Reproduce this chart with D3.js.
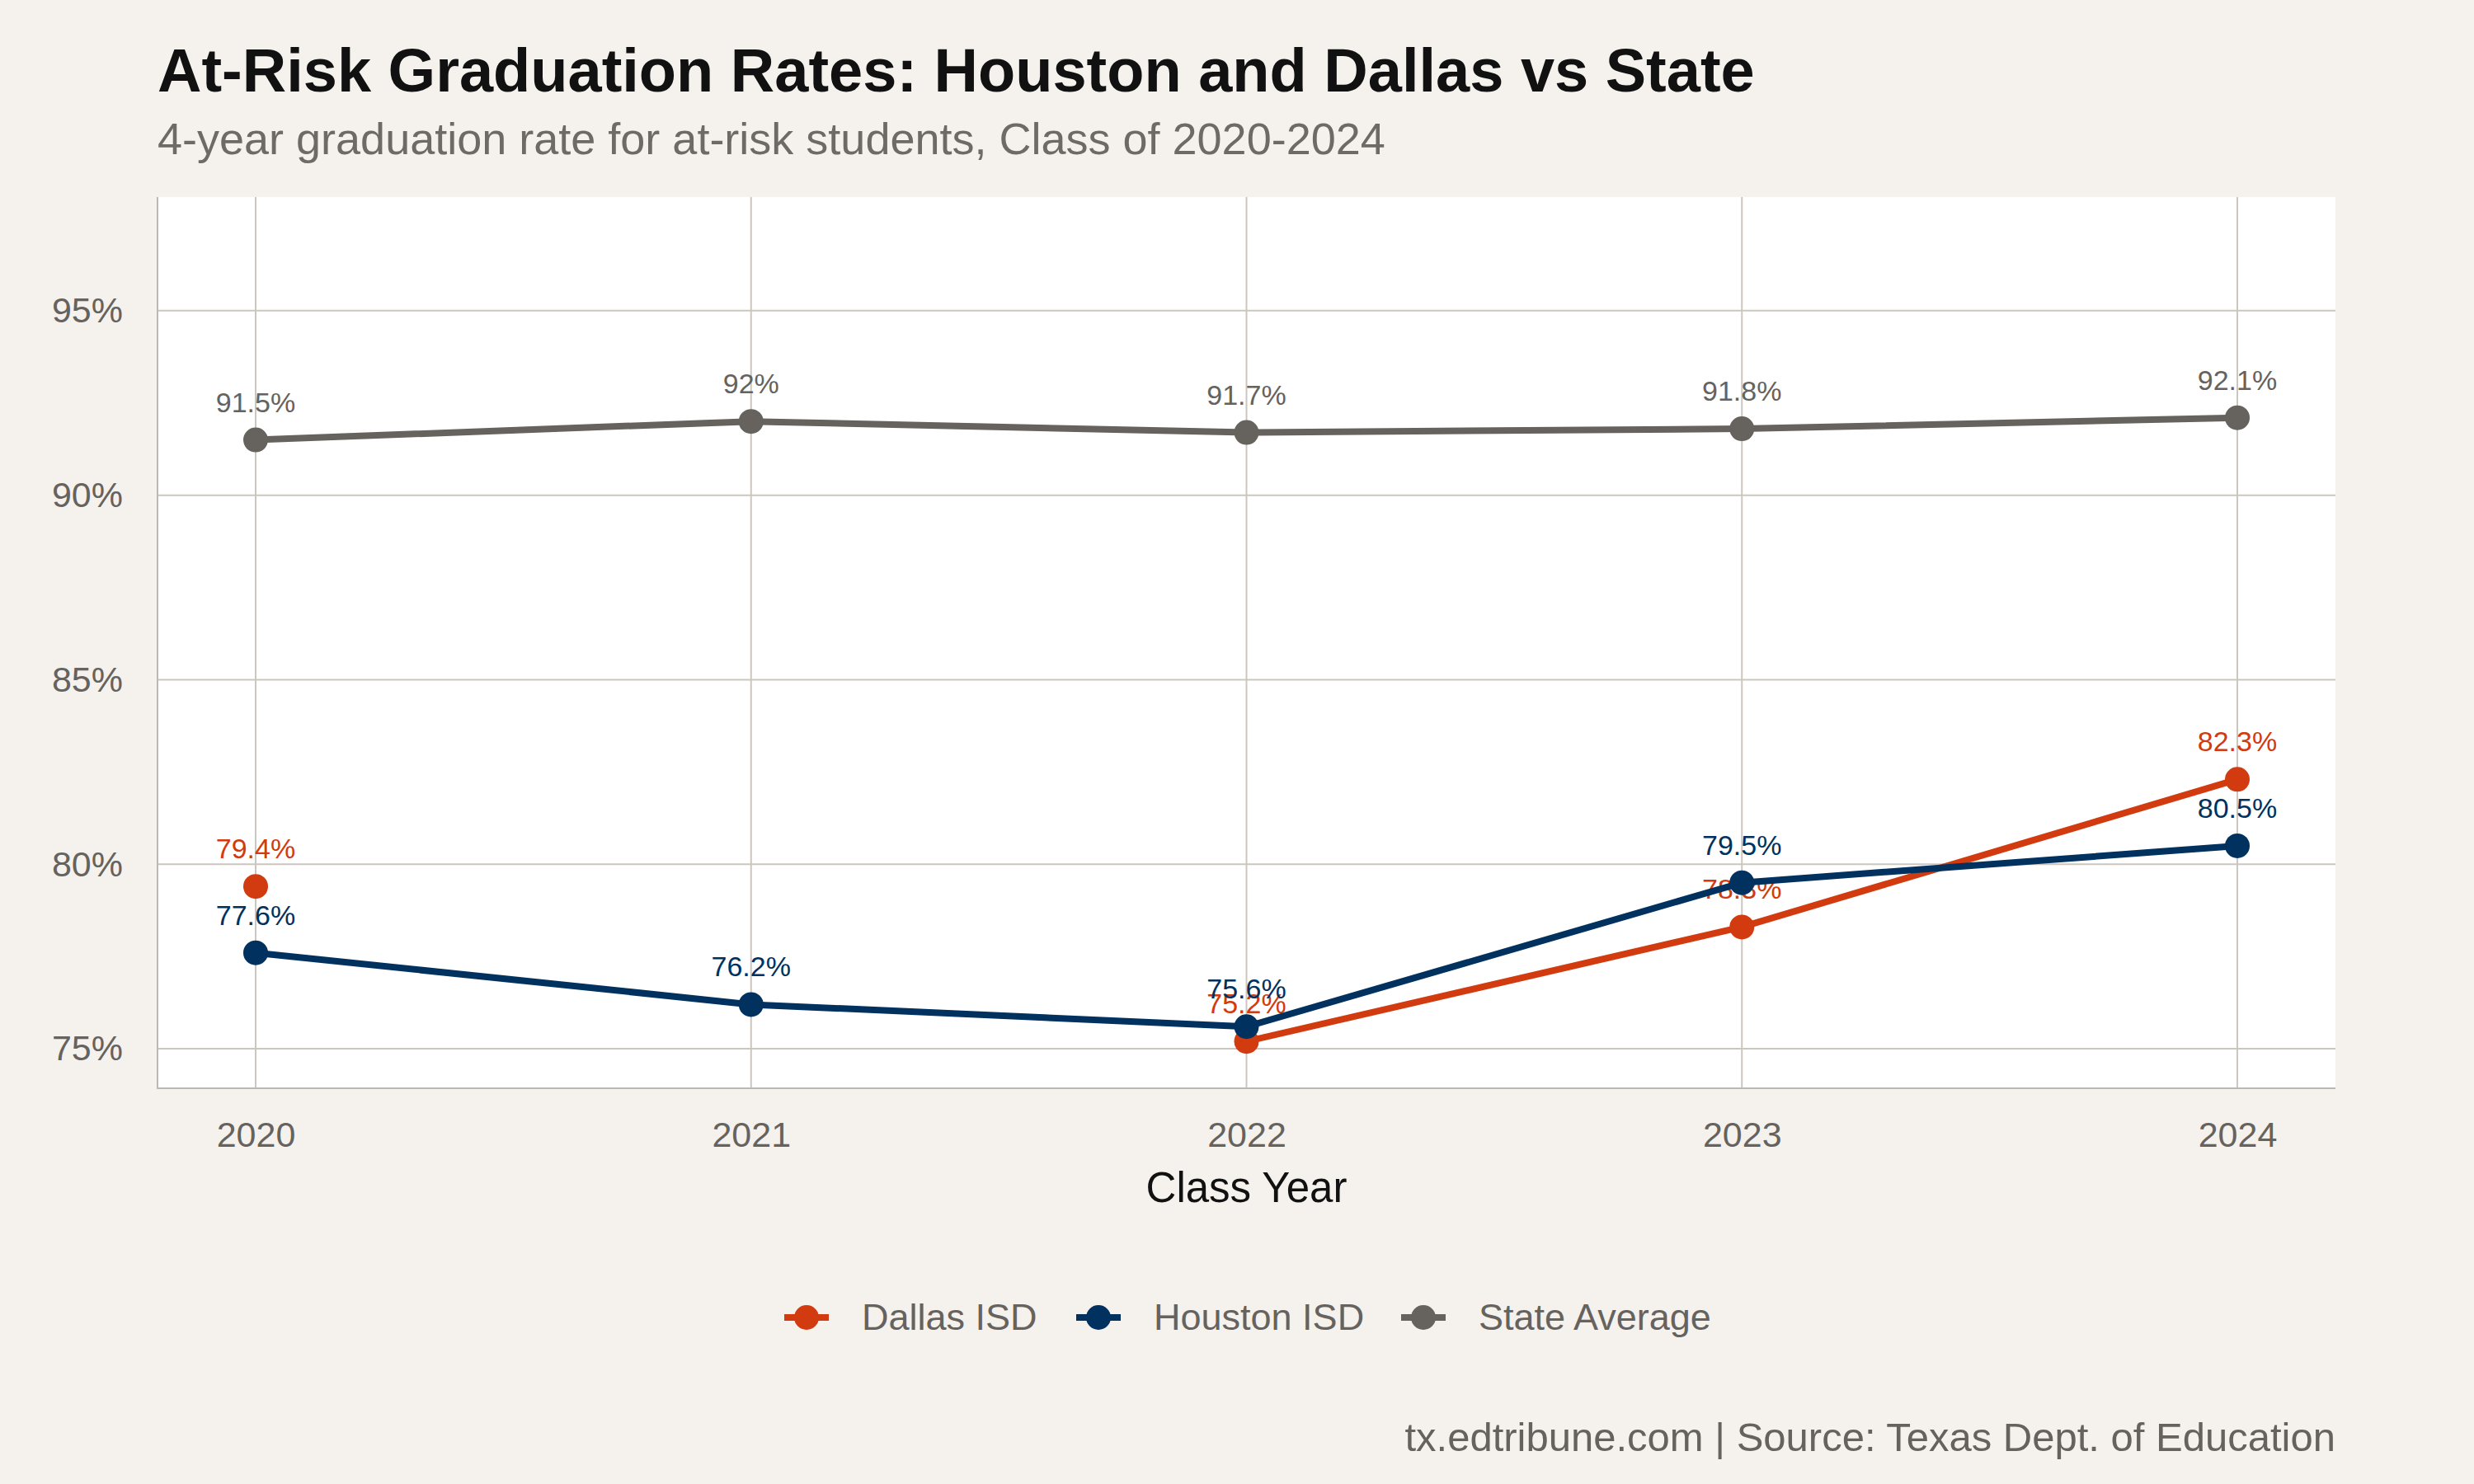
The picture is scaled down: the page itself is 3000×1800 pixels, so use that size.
<!DOCTYPE html>
<html>
<head>
<meta charset="utf-8">
<script src="https://cdn.jsdelivr.net/npm/d3@7"></script>
<style>
  body { margin: 0; background: #f5f2ee; }
  svg { font-family: "Liberation Sans", Arial, sans-serif; }
</style>
</head>
<body>
<svg id="chart" width="3000" height="1800"></svg>
<script>
// Chart data
const years = [2020, 2021, 2022, 2023, 2024];
const dallas = [79.4, null, 75.2, 78.3, 82.3];
const houston = [77.6, 76.2, 75.6, 79.5, 80.5];
const stateAvg = [91.5, 92, 91.7, 91.8, 92.1];
const yTicks = [75, 80, 85, 90, 95];

const series = [
  { name: 'Dallas ISD',    values: dallas,   color: '#d13b0f' },
  { name: 'Houston ISD',   values: houston,  color: '#00315f' },
  { name: 'State Average', values: stateAvg, color: '#66625e' }
];

const svg = d3.select('#chart');
const panel = { left: 191, right: 2832, top: 239, bottom: 1320 };

const x = d3.scalePoint().domain(years).range([310, 2713]);
const y = d3.scaleLinear().domain([73.93, 98.08]).range([panel.bottom, panel.top]);

// Panel background
svg.append('rect')
  .attr('x', panel.left).attr('y', panel.top)
  .attr('width', panel.right - panel.left).attr('height', panel.bottom - panel.top)
  .attr('fill', '#ffffff');

// Gridlines
const grid = svg.append('g').attr('stroke', '#cbc6bf').attr('stroke-width', 2);
yTicks.forEach(t => {
  grid.append('line')
    .attr('x1', panel.left).attr('x2', panel.right)
    .attr('y1', y(t)).attr('y2', y(t));
});
years.forEach(yr => {
  grid.append('line')
    .attr('x1', x(yr)).attr('x2', x(yr))
    .attr('y1', panel.top).attr('y2', panel.bottom);
});

// Axis lines (left and bottom)
svg.append('path')
  .attr('d', `M${panel.left},${panel.top}V${panel.bottom}H${panel.right}`)
  .attr('fill', 'none').attr('stroke', '#bdb8b1').attr('stroke-width', 2);

// Tick labels via d3 axes
const yAxis = svg.append('g')
  .attr('transform', `translate(${panel.left},0)`)
  .call(d3.axisLeft(y).tickValues(yTicks).tickSize(0).tickPadding(42).tickFormat(d => d + '%'));
yAxis.select('.domain').remove();
yAxis.selectAll('text').attr('font-size', 43).attr('fill', '#66625e').attr('font-family', 'Liberation Sans');

const xAxis = svg.append('g')
  .attr('transform', `translate(0,${panel.bottom})`)
  .call(d3.axisBottom(x).tickSize(0).tickPadding(40).tickFormat(d3.format('d')));
xAxis.select('.domain').remove();
xAxis.selectAll('text').attr('font-size', 43).attr('fill', '#66625e').attr('font-family', 'Liberation Sans');

svg.append('text')
  .attr('x', x(2022)).attr('y', 1458)
  .attr('text-anchor', 'middle').attr('font-size', 51).attr('fill', '#111')
  .text('Class Year');

// Lines, points, labels
const line = d3.line()
  .defined(d => d.v !== null)
  .x(d => x(d.year)).y(d => y(d.v));

series.forEach(s => {
  const pts = years.map((yr, i) => ({ year: yr, v: s.values[i] }));
  svg.append('path')
    .datum(pts)
    .attr('d', line)
    .attr('fill', 'none').attr('stroke', s.color).attr('stroke-width', 8);
  const valid = pts.filter(d => d.v !== null);
  svg.append('g').selectAll('circle').data(valid).join('circle')
    .attr('cx', d => x(d.year)).attr('cy', d => y(d.v)).attr('r', 15)
    .attr('fill', s.color);
  svg.append('g').selectAll('text').data(valid).join('text')
    .attr('x', d => x(d.year)).attr('y', d => y(d.v) - 34)
    .attr('text-anchor', 'middle').attr('font-size', 34).attr('fill', s.color)
    .text(d => d.v + '%');
});

// Title & subtitle
svg.append('text').attr('x', 191).attr('y', 111)
  .attr('font-size', 74).attr('font-weight', 'bold').attr('fill', '#111')
  .text('At-Risk Graduation Rates: Houston and Dallas vs State');
svg.append('text').attr('x', 191).attr('y', 187)
  .attr('font-size', 54).attr('fill', '#6e6a66')
  .text('4-year graduation rate for at-risk students, Class of 2020-2024');

// Legend
const legendX = [951, 1305, 1699];
series.forEach((s, i) => {
  const g = svg.append('g').attr('transform', `translate(${legendX[i]},1598)`);
  g.append('line').attr('x1', 0).attr('x2', 54).attr('stroke', s.color).attr('stroke-width', 8);
  g.append('circle').attr('cx', 27).attr('r', 15).attr('fill', s.color);
  g.append('text').attr('x', 94).attr('y', 15)
    .attr('font-size', 45).attr('fill', '#66625e').text(s.name);
});

// Caption
svg.append('text').attr('x', 2832).attr('y', 1760)
  .attr('text-anchor', 'end').attr('font-size', 49).attr('fill', '#66625e')
  .text('tx.edtribune.com | Source: Texas Dept. of Education');
</script>
</body>
</html>
